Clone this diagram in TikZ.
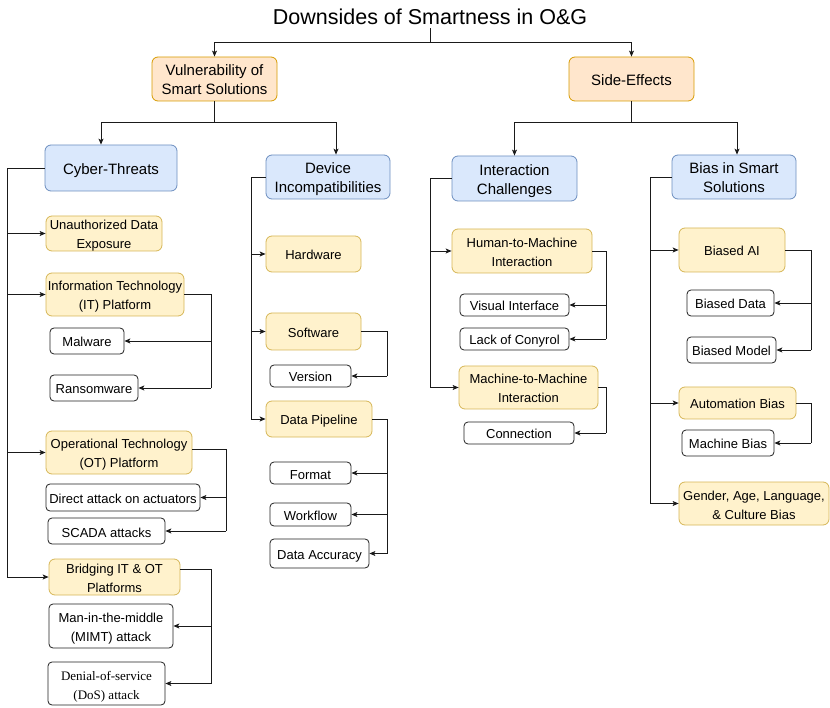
\documentclass[tikz,border=0pt]{standalone}
\usepackage{fontspec}
\setmainfont{Liberation Sans}
\newfontfamily\serifdos{Liberation Serif}
\usetikzlibrary{arrows.meta}
\definecolor{bfill}{HTML}{DAE8FC}
\definecolor{bdraw}{HTML}{6C8EBF}
\definecolor{yfill}{HTML}{FFF2CC}
\definecolor{ydraw}{HTML}{D6B656}
\definecolor{ofill}{HTML}{FFE6CC}
\definecolor{odraw}{HTML}{D79B00}
\definecolor{wdraw}{HTML}{202020}
\definecolor{lnc}{HTML}{1A1A1A}
\newcommand\bxat[7]{\node[#1, minimum width={(#5-#3)*1pt}, minimum height={(#6-#4)*1pt}] (#2) at ({(#3+#5)/2},{(#4+#6)/2}) {\raisebox{-0.4em}[0pt][0pt]{\begin{tabular}{@{}c@{}}#7\end{tabular}}};}
\tikzset{
  boxbase/.style={rounded corners=6pt, line width=0.8pt, inner sep=0pt},
  bluebox/.style={boxbase, fill=bfill, draw=bdraw, font=\fontsize{15}{19}\selectfont},
  topbox/.style={boxbase, fill=ofill, draw=odraw, font=\fontsize{15}{19}\selectfont},
  ybox/.style={boxbase, fill=yfill, draw=ydraw, font=\fontsize{13}{19}\selectfont},
  wbox/.style={boxbase, rounded corners=4pt, fill=white, draw=wdraw, font=\fontsize{13}{19}\selectfont},
  ln/.style={draw=lnc, line width=0.8pt},
  arr/.style={ln, -{Stealth[length=6pt,width=5pt,inset=1.5pt]}}
}
\begin{document}
\begin{tikzpicture}[x=1pt,y=-1pt]
\useasboundingbox (0,0) rectangle (830,708);
% title
\node[inner sep=0pt, font=\fontsize{21.5}{24}\selectfont] (title) at (430,17) {Downsides of Smartness in O\&G};
% top level
\bxat{topbox}{vul}{152}{57}{277}{101}{Vulnerability of\\Smart Solutions}
\bxat{topbox}{se}{569}{57}{694}{101}{Side-Effects}
% second level
\bxat{bluebox}{ct}{45}{145}{177}{191}{Cyber-Threats}
\bxat{bluebox}{di}{266}{155}{390}{199}{Device\\Incompatibilities}
\bxat{bluebox}{ic}{452}{156}{577}{201}{Interaction\\Challenges}
\bxat{bluebox}{bs}{672}{155}{796}{199}{Bias in Smart\\Solutions}
% cyber-threats
\bxat{ybox}{ude}{46}{216}{162}{251}{Unauthorized Data\\Exposure}
\bxat{ybox}{itp}{46}{273}{184}{316}{Information Technology\\(IT) Platform}
\bxat{wbox}{mal}{50}{328}{124}{354}{Malware}
\bxat{wbox}{ran}{50}{375}{138}{401}{Ransomware}
\bxat{ybox}{otp}{46}{431}{192}{474}{Operational Technology\\(OT) Platform}
\bxat{wbox}{dat}{46}{484}{200}{511}{Direct attack on actuators}
\bxat{wbox}{sca}{48}{518}{165}{544}{SCADA attacks}
\bxat{ybox}{bri}{49}{559}{180}{595}{Bridging IT \& OT\\Platforms}
\bxat{wbox}{mim}{49}{604}{173}{648}{Man-in-the-middle\\(MIMT) attack}
\bxat{wbox,font=\serifdos\fontsize{13}{19}\selectfont}{dos}{48}{662}{165}{705}{Denial-of-service\\(DoS) attack}
% device incompatibilities
\bxat{ybox}{hw}{266}{236}{361}{272}{Hardware}
\bxat{ybox}{sw}{266}{313}{361}{350}{Software}
\bxat{wbox}{ver}{270}{365}{351}{387}{Version}
\bxat{ybox}{dp}{266}{401}{372}{437}{Data Pipeline}
\bxat{wbox}{fmt}{270}{462}{351}{484}{Format}
\bxat{wbox}{wf}{270}{503}{351}{526}{Workflow}
\bxat{wbox}{dac}{270}{539}{369}{568}{Data Accuracy}
% interaction challenges
\bxat{ybox}{hm}{452}{229}{592}{273}{Human-to-Machine\\Interaction}
\bxat{wbox}{vi}{460}{294}{569}{316}{Visual Interface}
\bxat{wbox}{lc}{460}{328}{569}{350}{Lack of Conyrol}
\bxat{ybox}{mm}{459}{366}{598}{409}{Machine-to-Machine\\Interaction}
\bxat{wbox}{con}{464}{422}{574}{444}{Connection}
% bias
\bxat{ybox}{bai}{679}{228}{785}{272}{Biased AI}
\bxat{wbox}{bd}{687}{290}{774}{316}{Biased Data}
\bxat{wbox}{bm}{687}{337}{776}{363}{Biased Model}
\bxat{ybox}{ab}{679}{387}{796}{419}{Automation Bias}
\bxat{wbox}{mb}{682}{430}{774}{456}{Machine Bias}
\bxat{ybox}{gen}{679}{482}{829}{525}{Gender, Age, Language,\\\& Culture Bias}
% junctions
\coordinate (j0) at (title.south |- 0,42);
\coordinate (j1) at (vul.south |- 0,122);
\coordinate (j2) at (se.south |- 0,122);
\coordinate (t1) at (7,0);
\coordinate (t2) at (251,0);
\coordinate (t3) at (430,0);
\coordinate (t4) at (650,0);
\coordinate (r1) at (211,0);
\coordinate (r2) at (226,0);
\coordinate (r3) at (211,0);
\coordinate (r4) at (387,0);
\coordinate (r5) at (606,0);
\coordinate (r6) at (811,0);
% top connectors
\draw[ln] ([yshift=-3pt]title.south) -- (j0);
\draw[arr] (j0) -| (vul.north);
\draw[arr] (j0) -| (se.north);
\draw[ln] (vul.south) -- (j1);
\draw[arr] (j1) -| ([xshift=-10pt]ct.north);
\draw[arr] (j1) -| ([xshift=8pt]di.north);
\draw[ln] (se.south) -- (j2);
\draw[arr] (j2) -| (ic.north);
\draw[arr] (j2) -| ([xshift=3pt]bs.north);
% cyber-threats trunk
\draw[ln] (ct.west) -| (t1 |- bri.west);
\draw[arr] (t1 |- ude.west) -- (ude.west);
\draw[arr] (t1 |- itp.west) -- (itp.west);
\draw[arr] (t1 |- otp.west) -- (otp.west);
\draw[arr] (t1 |- bri.west) -- (bri.west);
\draw[ln] (itp.east) -| (r1 |- ran.east);
\draw[arr] (r1 |- mal.east) -- (mal.east);
\draw[arr] (r1 |- ran.east) -- (ran.east);
\draw[ln] ([yshift=3pt]otp.east) -| (r2 |- sca.east);
\draw[arr] (r2 |- dat.east) -- (dat.east);
\draw[arr] (r2 |- sca.east) -- (sca.east);
\draw[ln] ([yshift=8pt]bri.east) -| (r3 |- dos.east);
\draw[arr] (r3 |- mim.east) -- (mim.east);
\draw[arr] (r3 |- dos.east) -- (dos.east);
% device trunk
\draw[ln] (di.west) -| (t2 |- dp.west);
\draw[arr] (t2 |- hw.west) -- (hw.west);
\draw[arr] (t2 |- sw.west) -- (sw.west);
\draw[arr] (t2 |- dp.west) -- (dp.west);
\draw[ln] (sw.east) -| (r4 |- ver.east);
\draw[arr] (r4 |- ver.east) -- (ver.east);
\draw[ln] (dp.east) -| (r4 |- dac.east);
\draw[arr] (r4 |- fmt.east) -- (fmt.east);
\draw[arr] (r4 |- wf.east) -- (wf.east);
\draw[arr] (r4 |- dac.east) -- (dac.east);
% interaction trunk
\draw[ln] (ic.west) -| (t3 |- mm.west);
\draw[arr] (t3 |- hm.west) -- (hm.west);
\draw[arr] (t3 |- mm.west) -- (mm.west);
\draw[ln] (hm.east) -| (r5 |- lc.east);
\draw[arr] (r5 |- vi.east) -- (vi.east);
\draw[arr] (r5 |- lc.east) -- (lc.east);
\draw[ln] (mm.east) -| (r5 |- con.east);
\draw[arr] (r5 |- con.east) -- (con.east);
% bias trunk
\draw[ln] (bs.west) -| (t4 |- gen.west);
\draw[arr] (t4 |- bai.west) -- (bai.west);
\draw[arr] (t4 |- ab.west) -- (ab.west);
\draw[arr] (t4 |- gen.west) -- (gen.west);
\draw[ln] (bai.east) -| (r6 |- bm.east);
\draw[arr] (r6 |- bd.east) -- (bd.east);
\draw[arr] (r6 |- bm.east) -- (bm.east);
\draw[ln] (ab.east) -| (r6 |- mb.east);
\draw[arr] (r6 |- mb.east) -- (mb.east);
\end{tikzpicture}
\end{document}
